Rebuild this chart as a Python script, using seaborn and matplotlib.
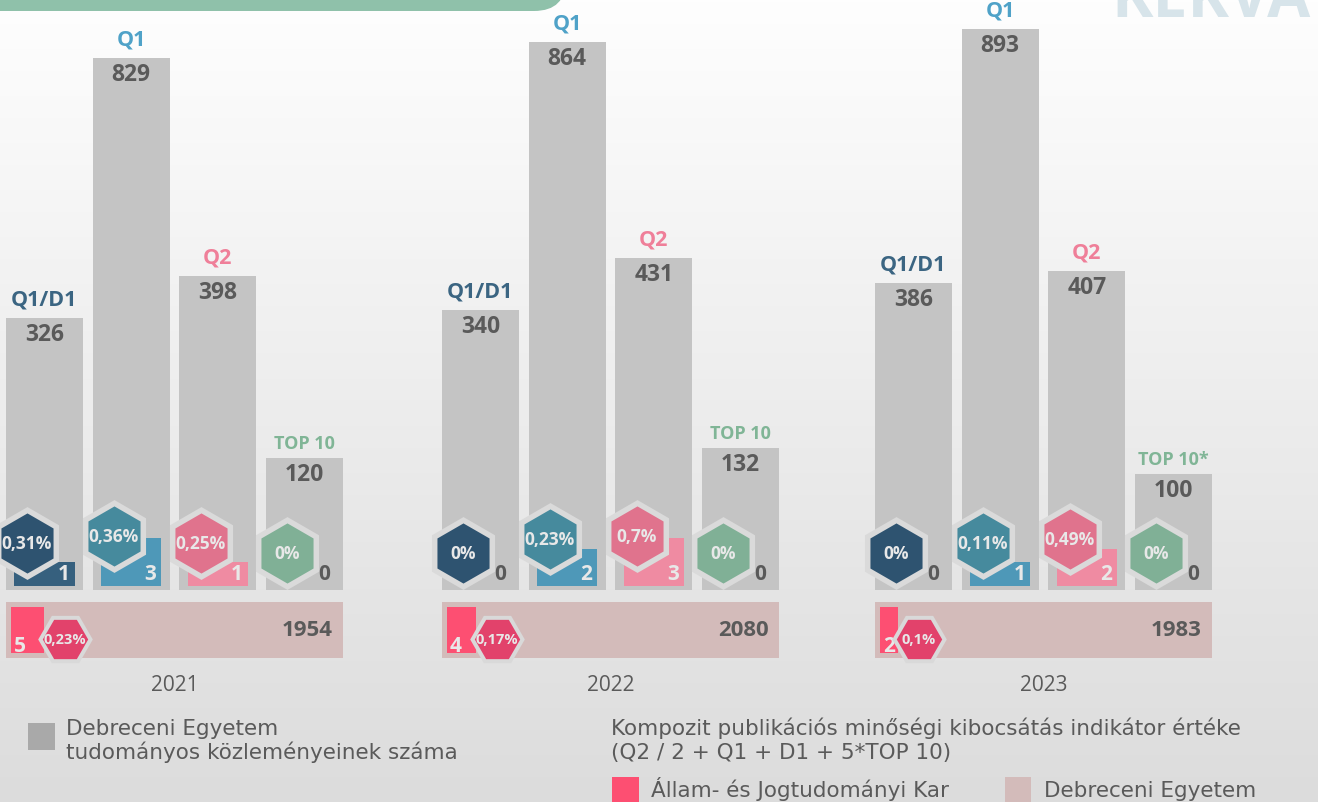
import numpy as np
import pandas as pd
import matplotlib
matplotlib.use("Agg")
import matplotlib.pyplot as plt
import seaborn as sns
from matplotlib.colors import LinearSegmentedColormap
from matplotlib.patches import FancyBboxPatch, Rectangle
from matplotlib.transforms import ScaledTranslation

# values
years = ["2021", "2022", "2023"]
categories = ["Q1/D1", "Q1", "Q2", "TOP 10"]
cat_labels = [
    ["Q1/D1", "Q1", "Q2", "TOP 10"],
    ["Q1/D1", "Q1", "Q2", "TOP 10"],
    ["Q1/D1", "Q1", "Q2", "TOP 10*"],
]
# Debreceni Egyetem - publications per category
de_pubs = [[326, 829, 398, 120], [340, 864, 431, 132], [386, 893, 407, 100]]
# Állam- és Jogtudományi Kar - publications per category and share (%)
ajk_pubs = [[1, 3, 1, 0], [0, 2, 3, 0], [0, 1, 2, 0]]
ajk_pct = [[0.31, 0.36, 0.25, 0], [0, 0.23, 0.7, 0], [0, 0.11, 0.49, 0]]
# composite indicator
komp_de = [1954, 2080, 1983]
komp_ajk = [5, 4, 2]
komp_pct = [0.23, 0.17, 0.1]

GRAY = "#c4c4c4"
BEIGE = "#d3bbba"
PINK = "#fd4f72"
PINK_HEX = "#e2426b"
TXT = "#5a5a5a"
LIGHT = "#e8e8e8"
label_cols = ["#3b6582", "#4fa2c8", "#ef7f99", "#80b596"]
small_cols = ["#36607e", "#4e98b8", "#ef8ba2", "#80b596"]
hex_cols = ["#2e5370", "#468a9d", "#e0738d", "#80b096"]

W, H = 1318, 803
BASE = 591
GROUP_X = [1, 437, 870]
GROUP_W = 347
LEG_FONT = ["DejaVu Sans"]
LEG_SIZE = 15.5


def pct(v):
    return f"{v:g}".replace(".", ",") + "%"


def pt(px):
    return px * 0.72


def power(p):
    return (lambda v: np.sign(v) * np.abs(v) ** p,
            lambda v: np.sign(v) * np.abs(v) ** (1 / p))


def px_axes(x, y, w, h):
    a = fig.add_axes([x / W, 1 - (y + h) / H, w / W, h / H])
    a.set_facecolor("none")
    return a


def shift(ax, dx, dy):
    return ax.transData + ScaledTranslation(dx / 100, dy / 100, fig.dpi_scale_trans)


sns.set_theme(style="white")
plt.rcParams["font.family"] = ["Open Sans", "DejaVu Sans"]

fig = plt.figure(figsize=(W / 100, H / 100), dpi=100)

# background, banner, logo, legend
bg = fig.add_axes([0, 0, 1, 1])
grad = np.linspace(0, 1, 256)[:, None]
bg.imshow(grad, cmap=LinearSegmentedColormap.from_list("bg", ["#fefefe", "#dcdcdc"]),
          extent=[0, W, H, 0], aspect="auto", zorder=0)
bg.set_xlim(0, W)
bg.set_ylim(H, 0)
bg.axis("off")
bg.add_patch(FancyBboxPatch((-60, -60), 626, 72, boxstyle="round,pad=0,rounding_size=32",
                            fc="#8fc1aa", ec="none", zorder=1))
bg.text(1111, 17, "KEKVA", fontsize=45, fontweight="bold", color="#d7e4ea",
        ha="left", va="baseline", zorder=1)

bg.add_patch(Rectangle((28, 724), 27, 27, fc="#a9a9a9", ec="none"))
bg.text(66, 735, "Debreceni Egyetem", fontsize=LEG_SIZE, color=TXT, va="baseline",
        family=LEG_FONT)
bg.text(66, 759, "tudományos közleményeinek száma", fontsize=LEG_SIZE, color=TXT,
        va="baseline", family=LEG_FONT)
bg.text(611, 735, "Kompozit publikációs minőségi kibocsátás indikátor értéke",
        fontsize=LEG_SIZE, color=TXT, va="baseline", family=LEG_FONT)
bg.text(611, 759, "(Q2 / 2 + Q1 + D1 + 5*TOP 10)", fontsize=LEG_SIZE, color=TXT,
        va="baseline", family=LEG_FONT)
bg.add_patch(Rectangle((612, 778), 27, 30, fc=PINK, ec="none"))
bg.text(651, 797, "Állam- és Jogtudományi Kar", fontsize=LEG_SIZE, color=TXT, va="baseline",
        family=LEG_FONT)
bg.add_patch(Rectangle((1005, 778), 26, 30, fc=BEIGE, ec="none"))
bg.text(1044, 797, "Debreceni Egyetem", fontsize=LEG_SIZE, color=TXT, va="baseline",
        family=LEG_FONT)

for g, year in enumerate(years):
    x0 = GROUP_X[g]
    df = pd.DataFrame({"cat": categories, "de": de_pubs[g], "ajk": ajk_pubs[g]})

    # university publication counts
    ax = px_axes(x0, 0, GROUP_W, BASE)
    sns.barplot(data=df, x="cat", y="de", color=GRAY, saturation=1, width=0.885,
                linewidth=0, ax=ax)
    ax.set_yscale("function", functions=power(0.72))

    # faculty publication counts
    ax2 = ax.twinx()
    sns.barplot(data=df, x="cat", y="ajk", hue="cat", palette=small_cols, saturation=1,
                width=0.70, linewidth=0, legend=False, ax=ax2)
    ax2.set_yscale("function", functions=power(0.63))

    for i, (n, k, p) in enumerate(zip(de_pubs[g], ajk_pubs[g], ajk_pct[g])):
        ax.annotate(cat_labels[g][i], (i, n), xytext=(0, pt(19 if i < 3 else 15)),
                    textcoords="offset points", ha="center", va="center",
                    fontsize=15.5 if i < 3 else 13, fontweight="bold", color=label_cols[i])
        ax.annotate(str(n), (i, n), xytext=(0, pt(-16)), textcoords="offset points",
                    ha="center", va="center", fontsize=16.5, fontweight="bold", color=TXT)
        ax2.text(i + 0.35, 0, str(k), transform=shift(ax, -5, 17), ha="right", va="center",
                 fontsize=15, fontweight="bold", color=LIGHT if k else TXT, zorder=4)
        off = 37 + 10 * np.sqrt(k)
        ax2.plot(i - 0.2, 0, marker="h", ms=pt(66.5), mfc=hex_cols[i], mec="#dadada",
                 mew=pt(5.5), transform=shift(ax, 0, off), clip_on=False, zorder=5)
        ax2.text(i - 0.2, 0, pct(p), transform=shift(ax, 0, off), ha="center", va="center",
                 fontsize=12.5, fontweight="bold", color=LIGHT, zorder=6)

    ax.set_ylim(0, 960)
    ax.set_xlim(-0.5, 3.5)
    ax.axis("off")
    ax2.set_ylim(-0.058, 160)
    ax2.set_xlim(-0.5, 3.5)
    ax2.axis("off")

    # composite indicator
    dax = px_axes(x0 + 5, 603, 337, 56)
    sns.barplot(x=[komp_de[g]], y=["DE"], orient="h", color=BEIGE, width=1, saturation=1,
                linewidth=0, ax=dax)
    dax.set_xlim(0, komp_de[g])
    dax.set_ylim(0.5, -0.5)
    dax.axis("off")
    dax.annotate(str(komp_de[g]), (1, 0.5), xycoords="axes fraction", xytext=(pt(-10), 0),
                 textcoords="offset points", ha="right", va="center", fontsize=16,
                 fontweight="bold", color=TXT)
    dax.annotate(year, (0.5, 0), xycoords="axes fraction", xytext=(0, pt(-27)),
                 textcoords="offset points", ha="center", va="center", fontsize=15, color=TXT)

    pax = px_axes(x0 + 10, 608, 332, 46)
    sns.barplot(x=[komp_ajk[g]], y=["AJK"], orient="h", color=PINK, width=1, saturation=1,
                linewidth=0, ax=pax)
    pax.set_xscale("function", functions=power(0.66))
    pax.annotate(str(komp_ajk[g]), (0, 0), xycoords="axes fraction", xytext=(pt(3), pt(2)),
                 textcoords="offset points", ha="left", va="baseline", fontsize=15,
                 fontweight="bold", color=LIGHT)
    pax.plot(komp_ajk[g], 0, marker="H", ms=pt(50), mfc=PINK_HEX, mec="#d9d9d9", mew=pt(4),
             transform=shift(pax, 21, -9), clip_on=False, zorder=5)
    pax.text(komp_ajk[g], 0, pct(komp_pct[g]), transform=shift(pax, 21, -9), ha="center",
             va="center", fontsize=10.5, fontweight="bold", color=LIGHT, zorder=6)
    pax.set_xlim(0, 165)
    pax.set_ylim(0.5, -0.5)
    pax.axis("off")

fig.savefig("out.png", dpi=100)
